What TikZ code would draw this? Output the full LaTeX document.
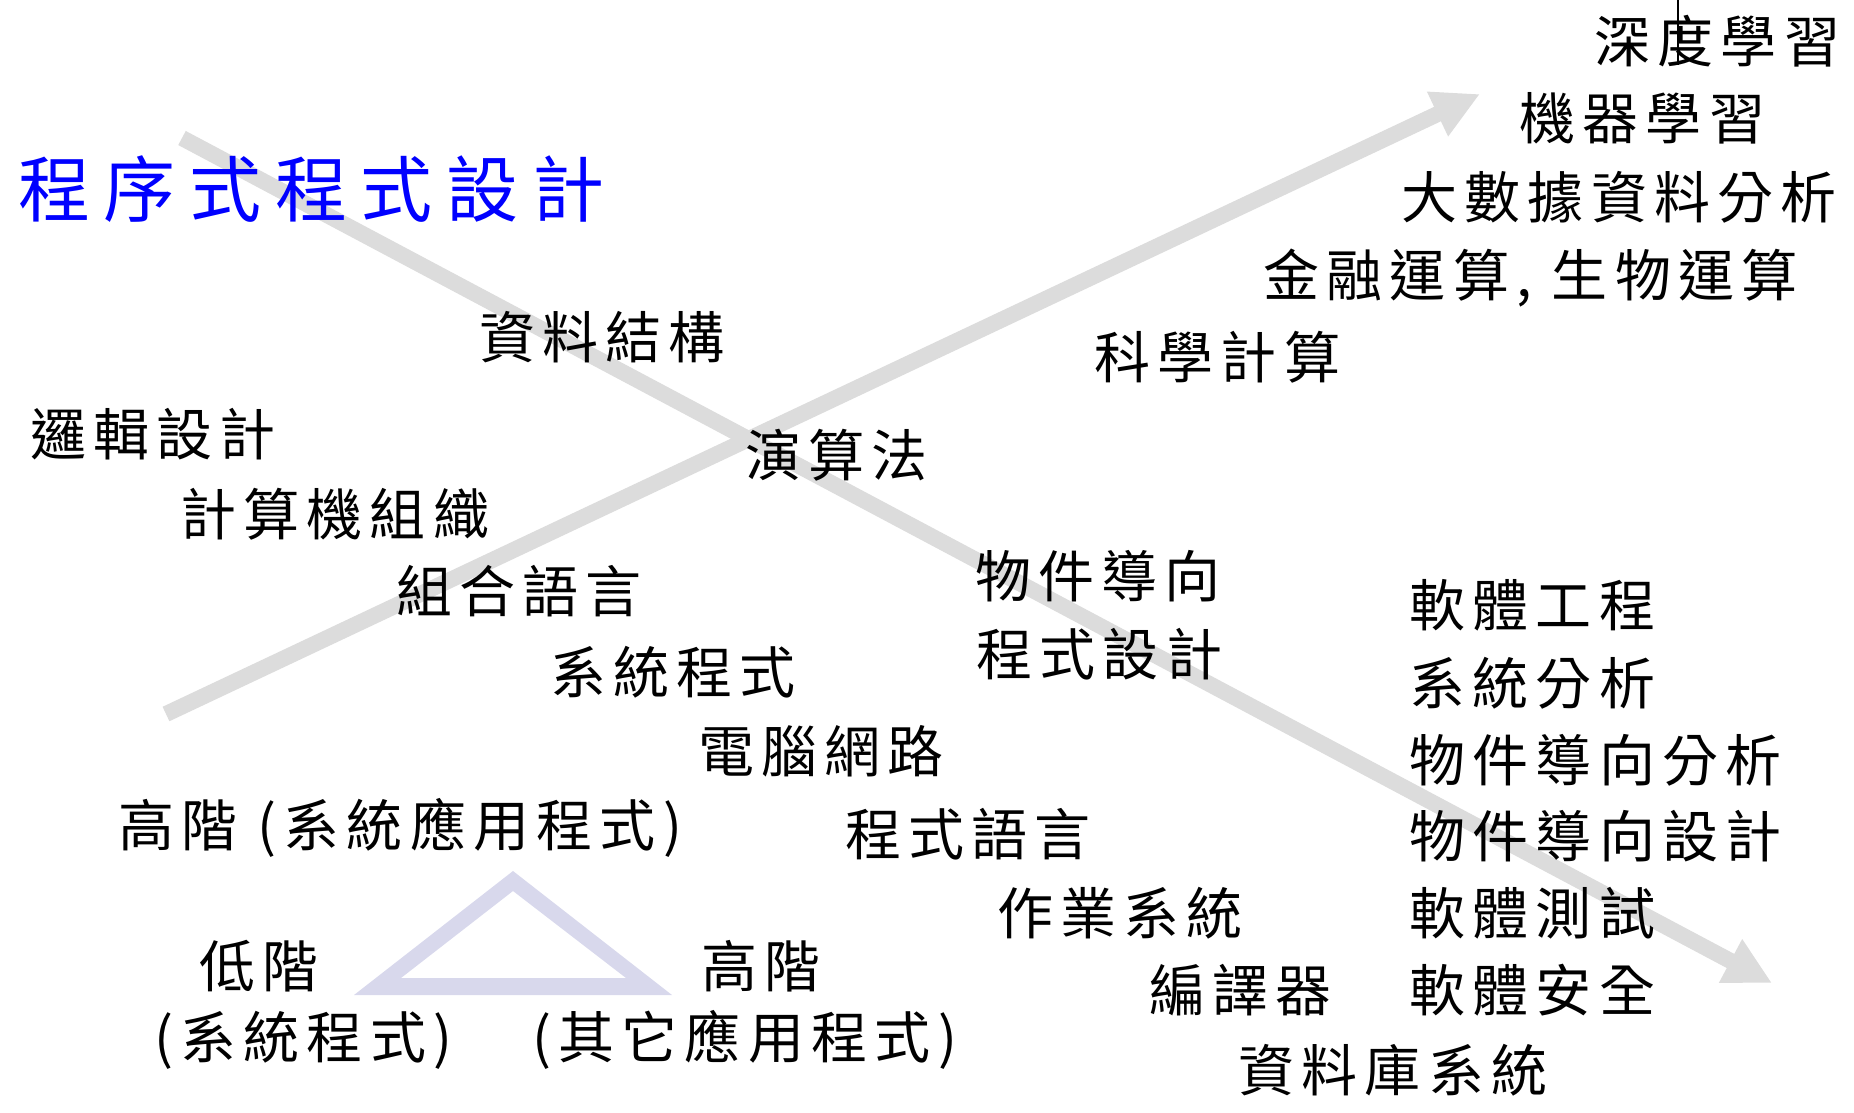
\documentclass[tikz,border=0pt]{standalone}
\usepackage{fontspec}
\setmainfont{Noto Sans CJK TC}
\usetikzlibrary{calc,arrows.meta,positioning}
\definecolor{arrowgray}{RGB}{220,220,220}
\definecolor{trilav}{RGB}{216,216,236}

\begin{document}
\begin{tikzpicture}[x=1pt,y=-1pt]

\tikzset{
course/.style={anchor=west,inner sep=0pt,font=\fontsize{56}{60}\selectfont\addfontfeatures{LetterSpace=13}},
title/.style={anchor=west,inner sep=0pt,text=blue,font=\fontsize{72}{80}\selectfont\addfontfeatures{LetterSpace=19}},
bigarrow/.style={draw=arrowgray,line width=16pt,-{Triangle[length=47pt,width=46pt]}}
}

\useasboundingbox (0,0) rectangle (1854,1112);

% Arrows
\coordinate (procstart) at (182,138);
\coordinate (procend) at (1772,983);
\coordinate (upstart) at (166,714);
\coordinate (upend) at (1480,94);

\draw[bigarrow] (procstart) -- (procend);
\draw[bigarrow] (upstart) -- (upend);

% Triangle
\fill[trilav,even odd rule] (354,995) -- (672,995) -- (513,871) -- cycle
  (401,978) -- (626,978) -- (513,891) -- cycle;

\draw[line width=1.5pt] (1678,0) -- (1678,65);

% Labels
\node[title] (proc) at (18,189) {程序式程式設計};

\node[course] (deep) at (1594,41) {深度學習};
\node[course] (ml) at (1519,118) {機器學習};
\node[course] (bigdata) at (1401,197) {大數據資料分析};
\node[course] (fin) at (1263,278) {金融運算, 生物運算};
\node[course] (sci) at (1094,357) {科學計算};

\node[course] (ds) at (479,337) {資料結構};
\node[course] (logic) at (30,434) {邏輯設計};
\node[course] (algo) at (745,455) {演算法};
\node[course] (arch) at (180,514) {計算機組織};
\node[course] (asm) at (396,591) {組合語言};
\node[course] (oo1) at (975,576) {物件導向};
\node[course] (oo2) at ($(oo1)+(-122,78)$) {程式設計};
\node[course] (sysprog) at (550,672) {系統程式};
\node[course] (net) at (698,751) {電腦網路};
\node[course] (high) at (118,828) {高階 (系統應用程式)};
\node[course] (lang) at (845,834) {程式語言};
\node[course] (os) at (997,913) {作業系統};
\node[course] (comp) at (1149,990) {編譯器};
\node[course] (db) at (1238,1070) {資料庫系統};

\node[course] (se1) at (1409,605) {軟體工程};
\node[course] (se2) at (1409,683) {系統分析};
\node[course] (se3) at (1409,760) {物件導向分析};
\node[course] (se4) at (1409,836) {物件導向設計};
\node[course] (se5) at (1409,913) {軟體測試};
\node[course] (se6) at (1409,990) {軟體安全};

\node[course] (low) at (199,966) {低階};
\node[course] (lowp) at (154,1040) {(系統程式)};
\node[course] (hi) at (701,966) {高階};
\node[course] (hip) at (532,1040) {(其它應用程式)};

\end{tikzpicture}
\end{document}
